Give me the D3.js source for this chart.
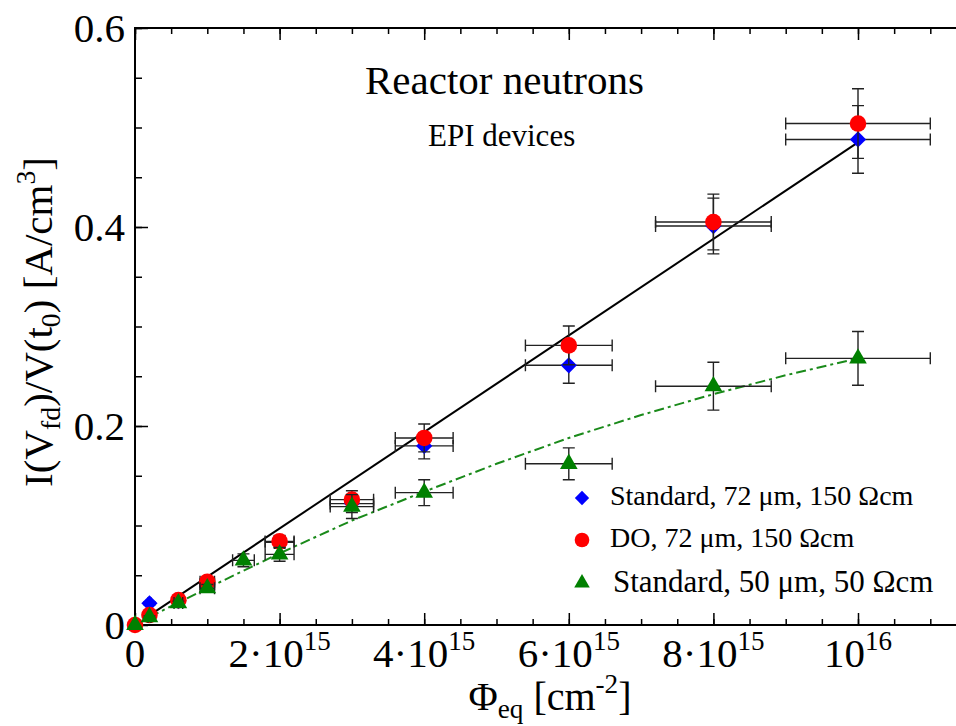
<!DOCTYPE html>
<html>
<head>
<meta charset="utf-8">
<script src="https://cdn.jsdelivr.net/npm/d3@7"></script>
<style>
  body { margin: 0; background: #fff; }
  svg { display: block; }
  text { font-family: "Liberation Serif", "Times New Roman", serif; fill: #000; }
</style>
</head>
<body>
<div id="chart"></div>
<script>
// fluence in units of 1e15 cm^-2, current/volume in A/cm^3
var stdX    = [0, 0.2, 0.6, 1, 2, 3, 4, 6, 8, 10];
var stdY    = [0, 0.0218, 0.024, 0.041, 0.083, 0.122, 0.180, 0.261, 0.401, 0.488];
var stdXErr = [0, 0.02, 0.06, 0.1, 0.2, 0.3, 0.4, 0.6, 0.8, 1.0];
var stdYErr = [0, 0.0015, 0.002, 0.003, 0.006, 0.009, 0.013, 0.018, 0.028, 0.034];

var doX    = [0, 0.2, 0.6, 1, 2, 3, 4, 6, 8, 10];
var doY    = [0, 0.010, 0.025, 0.0435, 0.084, 0.126, 0.188, 0.281, 0.405, 0.504];
var doXErr = [0, 0.02, 0.06, 0.1, 0.2, 0.3, 0.4, 0.6, 0.8, 1.0];
var doYErr = [0, 0.001, 0.002, 0.003, 0.006, 0.009, 0.014, 0.0195, 0.028, 0.035];

var thinX    = [0, 0.2, 0.6, 1, 1.5, 2, 3, 4, 6, 8, 10];
var thinY    = [0, 0.008, 0.022, 0.037, 0.065, 0.071, 0.119, 0.133, 0.162, 0.240, 0.268];
var thinXErr = [0, 0.02, 0.06, 0.1, 0.15, 0.2, 0.3, 0.4, 0.6, 0.8, 1.0];
var thinYErr = [0, 0.001, 0.002, 0.0037, 0.0065, 0.007, 0.012, 0.013, 0.016, 0.024, 0.027];

// fit lines
var linFitX = [0.2, 10];
var linFitY = [0.0097, 0.485];
var curveFitX = [0.2, 1, 2, 3, 4, 5, 6, 7, 8, 9, 10];
var curveFitY = [0.008, 0.037, 0.072, 0.105, 0.134, 0.162, 0.188, 0.211, 0.232, 0.251, 0.268];

// tick values
var xMajor = [0, 2, 4, 6, 8, 10];
var xLabels = [["0"], ["2·10", "15"], ["4·10", "15"], ["6·10", "15"], ["8·10", "15"], ["10", "16"]];
var yMajor = [0, 0.2, 0.4, 0.6];
var yLabels = ["0", "0.2", "0.4", "0.6"];

var legendNames = ["Standard, 72 μm, 150 Ωcm", "DO, 72 μm, 150 Ωcm", "Standard, 50 μm, 50 Ωcm"];

var svgWidth = 956;
var svgHeight = 726;
var margin = { top: 28, left: 135, bottom: 101 };

var svg = d3.select("#chart")
  .append("svg")
  .attr("width", svgWidth)
  .attr("height", svgHeight);

// plot extends past the right edge of the picture
var xScale = d3.scaleLinear().domain([0, 12]).range([margin.left, margin.left + 72.3 * 12]);
var yScale = d3.scaleLinear().domain([0, 0.6]).range([svgHeight - margin.bottom, margin.top]);

var x0 = xScale(0), x1 = xScale(12), yTop = yScale(0.6), yBot = yScale(0);

// ticks (all pointing inward)
function ticks(axis, transform) {
  var g = svg.append("g").attr("transform", transform).call(axis);
  g.select(".domain").remove();
  g.selectAll("line").attr("stroke", "#000").attr("stroke-width", 1.5);
  return g;
}
var xMinor = d3.range(0, 12.01, 0.5);
var yMinor = d3.range(0, 0.601, 0.05);

ticks(d3.axisBottom(xScale).tickValues(xMinor).tickSize(-6).tickFormat(""), `translate(0,${yBot})`);
ticks(d3.axisBottom(xScale).tickValues(xMajor).tickSize(-12).tickFormat(""), `translate(0,${yBot})`);
ticks(d3.axisTop(xScale).tickValues(xMinor).tickSize(-6).tickFormat(""), `translate(0,${yTop})`);
ticks(d3.axisTop(xScale).tickValues(xMajor).tickSize(-12).tickFormat(""), `translate(0,${yTop})`);
ticks(d3.axisLeft(yScale).tickValues(yMinor).tickSize(-7).tickFormat(""), `translate(${x0},0)`);
ticks(d3.axisLeft(yScale).tickValues(yMajor).tickSize(-13).tickFormat(""), `translate(${x0},0)`);

// frame
svg.append("rect")
  .attr("x", x0).attr("y", yTop)
  .attr("width", x1 - x0).attr("height", yBot - yTop)
  .attr("fill", "none").attr("stroke", "#000").attr("stroke-width", 2);

// tick labels
var tickSize = 41;
svg.selectAll(".xlab")
  .data(xMajor)
  .enter()
  .append("text")
  .attr("class", "xlab")
  .attr("x", d => xScale(d))
  .attr("y", 667)
  .attr("text-anchor", "middle")
  .attr("font-size", tickSize)
  .each(function(d, i) {
    var t = d3.select(this);
    t.append("tspan").text(xLabels[i][0]);
    if (xLabels[i][1]) {
      t.append("tspan").attr("font-size", 27).attr("dy", -17).text(xLabels[i][1]);
    }
  });

svg.selectAll(".ylab")
  .data(yMajor)
  .enter()
  .append("text")
  .attr("class", "ylab")
  .attr("x", 125)
  .attr("y", d => yScale(d) + 14)
  .attr("text-anchor", "end")
  .attr("font-size", tickSize)
  .text((d, i) => yLabels[i]);

// axis titles with sub/superscripts
function rich(t, parts, size) {
  var shift = 0;
  parts.forEach(function(p) {
    var target = p[1] === "sub" ? size * 0.19 : p[1] === "sup" ? -size * 0.42 : 0;
    var ts = t.append("tspan").text(p[0]).attr("dy", target - shift);
    if (p[1]) ts.attr("font-size", size * 0.68);
    shift = target;
  });
}

var xTitle = svg.append("text")
  .attr("x", 550).attr("y", 710)
  .attr("text-anchor", "middle")
  .attr("font-size", 40);
rich(xTitle, [["Φ"], ["eq", "sub"], [" [cm"], ["-2", "sup"], ["]"]], 40);

var yTitle = svg.append("text")
  .attr("transform", "translate(52,322) rotate(-90)")
  .attr("text-anchor", "middle")
  .attr("font-size", 41);
rich(yTitle, [["I(V"], ["fd", "sub"], [")/V(t"], ["0", "sub"], [") [A/cm"], ["3", "sup"], ["]"]], 41);

// fit lines
var line = d3.line().x(d => xScale(d[0])).y(d => yScale(d[1]));

svg.append("path")
  .datum(d3.zip(linFitX, linFitY))
  .attr("d", line)
  .attr("fill", "none").attr("stroke", "#000").attr("stroke-width", 2);

svg.append("path")
  .datum(d3.zip(curveFitX, curveFitY))
  .attr("d", line)
  .attr("fill", "none").attr("stroke", "#1a8a1a").attr("stroke-width", 2)
  .attr("stroke-dasharray", "10,4,3,4");

// data series
var series = [
  { x: stdX, y: stdY, xe: stdXErr, ye: stdYErr, color: "#0000ff", shape: "diamond" },
  { x: doX, y: doY, xe: doXErr, ye: doYErr, color: "#ff0000", shape: "circle" },
  { x: thinX, y: thinY, xe: thinXErr, ye: thinYErr, color: "#008000", shape: "triangle" }
];

function marker(g, shape, color, scale) {
  if (shape === "circle") {
    g.append("circle").attr("r", 8.3 * scale).attr("fill", color);
  } else if (shape === "diamond") {
    g.append("path")
      .attr("d", d3.symbol().type(d3.symbolSquare).size(132 * scale * scale))
      .attr("transform", "rotate(45)")
      .attr("fill", color);
  } else {
    g.append("path")
      .attr("d", d3.symbol().type(d3.symbolTriangle).size(135 * scale * scale))
      .attr("fill", color);
  }
}

var cap = 6;
series.forEach(function(s) {
  var pts = d3.range(s.x.length).map(i => ({ x: s.x[i], y: s.y[i], xe: s.xe[i], ye: s.ye[i] }));

  var eb = svg.append("g")
    .attr("stroke", "#222").attr("stroke-width", 1.4).attr("fill", "none");
  pts.filter(d => d.xe > 0).forEach(function(d) {
    var cx = xScale(d.x), cy = yScale(d.y);
    var xa = xScale(d.x - d.xe), xb = xScale(d.x + d.xe);
    var ya = yScale(d.y - d.ye), yb = yScale(d.y + d.ye);
    eb.append("path").attr("d",
      `M${xa},${cy}H${xb}M${xa},${cy - cap}V${cy + cap}M${xb},${cy - cap}V${cy + cap}` +
      `M${cx},${ya}V${yb}M${cx - cap},${ya}H${cx + cap}M${cx - cap},${yb}H${cx + cap}`);
  });

  svg.append("g")
    .selectAll("g")
    .data(pts)
    .enter()
    .append("g")
    .attr("transform", d => `translate(${xScale(d.x)},${yScale(d.y)})`)
    .each(function() { marker(d3.select(this), s.shape, s.color, 1); });
});

// titles inside the plot
svg.append("text").attr("x", 365).attr("y", 94).attr("font-size", 41).text("Reactor neutrons");
svg.append("text").attr("x", 428).attr("y", 146).attr("font-size", 31).text("EPI devices");

// legend
var legendY = [498, 540, 583];
var legendTextX = [610, 610, 613];
var legendSize = [28, 28, 31];
legendNames.forEach(function(name, i) {
  var g = svg.append("g").attr("transform", `translate(582,${legendY[i]})`);
  marker(g, series[i].shape, series[i].color, 0.88);
  svg.append("text")
    .attr("x", legendTextX[i])
    .attr("y", legendY[i] + (i === 2 ? 9 : 7))
    .attr("font-size", legendSize[i])
    .text(name);
});
</script>
</body>
</html>
